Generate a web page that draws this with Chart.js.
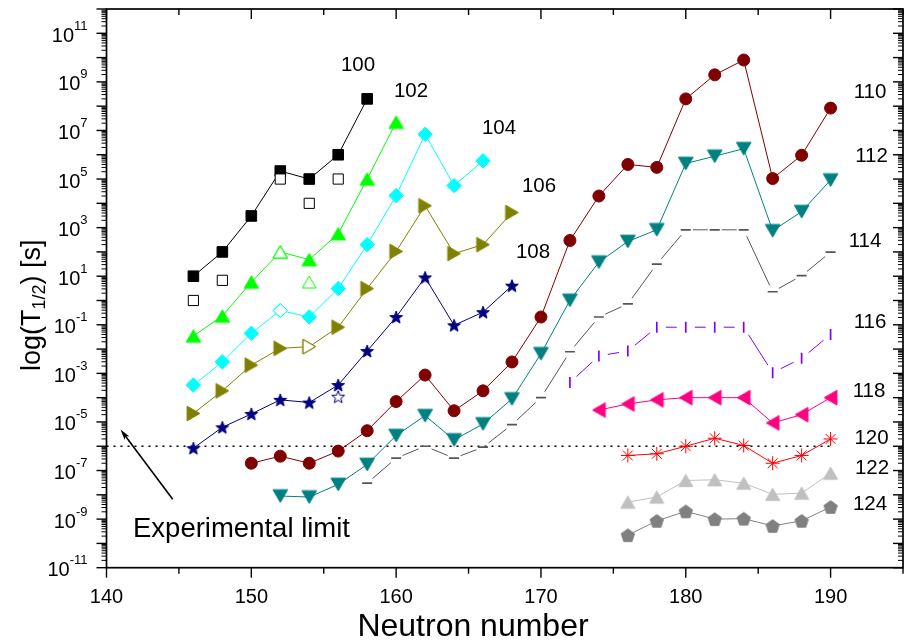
<!DOCTYPE html>
<html>
<head>
<meta charset="utf-8">
<script src="https://cdn.jsdelivr.net/npm/chart.js@4/dist/chart.umd.min.js"></script>
<style>
  html, body { margin: 0; padding: 0; background: #fff; overflow: hidden; }
  canvas { display: block; }
</style>
</head>
<body>
<canvas id="chart" width="912" height="643"></canvas>
<script>
// values: neutron number, log10 of T1/2 in seconds
const n100 = [146, 148, 150, 152, 154, 156, 158];
const logT100 = [1.0, 2.0, 3.48, 5.33, 5.0, 6.0, 8.3];
const n100Exp = [146, 148, 152, 154, 156];
const logT100Exp = [0.0, 0.83, 5.0, 4.0, 5.0];

const n102 = [146, 148, 150, 152, 154, 156, 158, 160];
const logT102 = [-1.46, -0.64, 0.76, 2.0, 1.68, 2.75, 5.0, 7.34];
const n102Exp = [152, 154];
const logT102Exp = [2.0, 0.76];

const n104 = [146, 148, 150, 152, 154, 156, 158, 160, 162, 164, 166];
const logT104 = [-3.48, -2.53, -1.35, -0.41, -0.68, 0.49, 2.3, 4.32, 6.84, 4.73, 5.75];
const n104Exp = [152];
const logT104Exp = [-0.41];

const n106 = [146, 148, 150, 152, 154, 156, 158, 160, 162, 164, 166, 168];
const logT106 = [-4.65, -3.72, -2.66, -1.97, -1.9, -1.1, 0.49, 2.02, 3.9, 1.93, 2.3, 3.62];
const n106Exp = [154];
const logT106Exp = [-1.9];

const n108 = [146, 148, 150, 152, 154, 156, 158, 160, 162, 164, 166, 168];
const logT108 = [-6.08, -5.22, -4.67, -4.09, -4.2, -3.48, -2.08, -0.68, 0.95, -1.02, -0.48, 0.61];
const n108Exp = [156];
const logT108Exp = [-3.96];

const n110 = [150, 152, 154, 156, 158, 160, 162, 164, 166, 168, 170, 172, 174, 176, 178, 180, 182, 184, 186, 188, 190];
const logT110 = [-6.7, -6.41, -6.7, -6.2, -5.36, -4.16, -3.07, -4.54, -3.72, -2.53, -0.68, 2.47, 4.3, 5.6, 5.48, 8.3, 9.29, 9.9, 5.02, 5.98, 7.92];

const n112 = [152, 154, 156, 158, 160, 162, 164, 166, 168, 170, 172, 174, 176, 178, 180, 182, 184, 186, 188, 190];
const logT112 = [-8.05, -8.09, -7.57, -6.75, -5.56, -4.74, -5.74, -5.08, -4.05, -2.19, 0.01, 1.58, 2.43, 2.91, 5.64, 5.94, 6.25, 2.87, 3.66, 4.96];

const n114 = [158, 160, 162, 164, 166, 168, 170, 172, 174, 176, 178, 180, 182, 184, 186, 188, 190];
const logT114 = [-7.52, -6.49, -6.0, -6.49, -6.04, -5.11, -4.0, -2.11, -0.68, -0.14, 1.5, 2.91, 2.91, 2.91, 0.36, 1.02, 1.99];

const n116 = [172, 174, 176, 178, 180, 182, 184, 186, 188, 190];
const logT116 = [-3.38, -2.28, -2.08, -1.1, -1.1, -1.1, -1.1, -2.97, -2.38, -1.4];

const n118 = [174, 176, 178, 180, 182, 184, 186, 188, 190];
const logT118 = [-4.51, -4.26, -4.09, -4.0, -4.0, -4.0, -5.04, -4.7, -4.0];

const n120 = [176, 178, 180, 182, 184, 186, 188, 190];
const logT120 = [-6.38, -6.31, -6.0, -5.67, -5.97, -6.7, -6.38, -5.7];

const n122 = [176, 178, 180, 182, 184, 186, 188, 190];
const logT122 = [-8.3, -8.09, -7.41, -7.38, -7.52, -7.98, -7.93, -7.11];

const n124 = [176, 178, 180, 182, 184, 186, 188, 190];
const logT124 = [-9.66, -9.07, -8.68, -9.0, -8.98, -9.28, -9.07, -8.5];

// experimental limit, 1 microsecond
const limitN = [140, 190];
const limitLogT = [-6, -6];

const zLabels = ['100', '102', '104', '106', '108', '110', '112', '114', '116', '118', '120', '122', '124'];
const xTickLabels = [140, 150, 160, 170, 180, 190];
const yTickExps = [-11, -9, -7, -5, -3, -1, 1, 3, 5, 7, 9, 11];

const FONT = "Arial, 'Liberation Sans', sans-serif";

const pts = (ns, logs) => ns.map((n, i) => ({ x: n, y: Math.pow(10, logs[i]) }));

// custom symbols (filled / open), centred on their bounding box
function markerImage(shape, color, filled, r) {
  const size = Math.ceil(r * 2 + 4);
  const c = document.createElement('canvas');
  c.width = c.height = size;
  const g = c.getContext('2d');
  const m = size / 2;
  g.beginPath();
  if (shape === 'star') {
    for (let i = 0; i < 10; i++) {
      const rr = i % 2 ? r * 0.42 : r;
      const a = -Math.PI / 2 + i * Math.PI / 5;
      g.lineTo(m + rr * Math.cos(a), m + rr * Math.sin(a) + r * 0.095);
    }
  } else if (shape === 'pentagon') {
    for (let i = 0; i < 5; i++) {
      const a = -Math.PI / 2 + i * 2 * Math.PI / 5;
      g.lineTo(m + r * Math.cos(a), m + r * Math.sin(a) + r * 0.095);
    }
  } else {
    const h = r * 1.5, w = r * Math.sqrt(3);
    const tri = {
      up: [[0, -h / 2], [w / 2, h / 2], [-w / 2, h / 2]],
      down: [[0, h / 2], [w / 2, -h / 2], [-w / 2, -h / 2]],
      right: [[h / 2, 0], [-h / 2, -w / 2], [-h / 2, w / 2]],
      left: [[-h / 2, 0], [h / 2, -w / 2], [h / 2, w / 2]]
    }[shape];
    tri.forEach(([dx, dy]) => g.lineTo(m + dx, m + dy));
  }
  g.closePath();
  g.fillStyle = filled ? color : '#fff';
  g.fill();
  g.lineWidth = 1;
  g.strokeStyle = color;
  g.stroke();
  return c;
}

function series(ns, logs, color, pointStyle, radius, extra) {
  return Object.assign({
    data: pts(ns, logs),
    showLine: true,
    borderColor: color,
    borderWidth: 1,
    pointStyle: pointStyle,
    pointRadius: radius,
    pointHoverRadius: radius,
    pointBackgroundColor: color,
    pointBorderColor: color,
    pointBorderWidth: 1
  }, extra || {});
}

function openSeries(ns, logs, color, pointStyle, radius) {
  return series(ns, logs, color, pointStyle, radius, {
    showLine: false,
    pointBackgroundColor: '#fff'
  });
}

// line gaps around the thin symbols (pixels from the point centre)
const lineGaps = { 12: 7, 13: 9 };

const datasets = [
  // experimental values, drawn on top
  openSeries(n100Exp, logT100Exp, '#000000', 'rect', 7.2),
  openSeries(n102Exp, logT102Exp, '#00ff00', markerImage('up', '#00ff00', false, 8), 8),
  openSeries(n104Exp, logT104Exp, '#00ffff', 'rectRot', 7),
  openSeries(n106Exp, logT106Exp, '#808000', markerImage('right', '#808000', false, 8.3), 8),
  openSeries(n108Exp, logT108Exp, '#000080', markerImage('star', '#000080', false, 6.7), 7),

  series(n100, logT100, '#000000', 'rect', 7.5),
  series(n102, logT102, '#00ff00', markerImage('up', '#00ff00', true, 8.4), 8),
  series(n104, logT104, '#00ffff', 'rectRot', 7.2),
  series(n106, logT106, '#808000', markerImage('right', '#808000', true, 8.5), 8),
  series(n108, logT108, '#000080', markerImage('star', '#000080', true, 6.7), 7),
  series(n110, logT110, '#800000', 'circle', 6),
  series(n112, logT112, '#008080', markerImage('down', '#008080', true, 8.5), 8),
  series(n114, logT114, '#555555', 'line', 5, { showLine: false, pointBorderWidth: 1.7 }),
  series(n116, logT116, '#8000ff', 'line', 5.5, { showLine: false, pointRotation: 90, pointBorderWidth: 1.7 }),
  series(n118, logT118, '#ff0080', markerImage('left', '#ff0080', true, 8.5), 8),
  series(n120, logT120, '#ff0000', 'star', 7),
  series(n122, logT122, '#c0c0c0', markerImage('up', '#c0c0c0', true, 8.2), 8),
  series(n124, logT124, '#808080', markerImage('pentagon', '#808080', true, 7), 7),

  {
    data: pts(limitN, limitLogT),
    showLine: true,
    borderColor: '#000',
    borderWidth: 1.5,
    borderDash: [2, 5],
    pointRadius: 0
  }
];

// connecting lines that stop short of the dash / bar symbols
const gapLines = {
  id: 'gapLines',
  beforeDatasetsDraw(chart) {
    const ctx = chart.ctx;
    ctx.save();
    Object.keys(lineGaps).forEach(k => {
      const i = Number(k);
      const gap = lineGaps[k];
      const els = chart.getDatasetMeta(i).data;
      ctx.strokeStyle = datasets[i].borderColor;
      ctx.lineWidth = 1;
      for (let j = 1; j < els.length; j++) {
        const p = els[j - 1], q = els[j];
        const dx = q.x - p.x, dy = q.y - p.y;
        const len = Math.hypot(dx, dy);
        if (len <= 2 * gap) continue;
        const ux = dx / len, uy = dy / len;
        ctx.beginPath();
        ctx.moveTo(p.x + ux * gap, p.y + uy * gap);
        ctx.lineTo(q.x - ux * gap, q.y - uy * gap);
        ctx.stroke();
      }
    });
    ctx.restore();
  }
};

const decorations = {
  id: 'decorations',
  afterDatasetsDraw(chart) {
    const ctx = chart.ctx;
    const a = chart.chartArea;
    const xs = chart.scales.x, ys = chart.scales.y;
    const seg = (x1, y1, x2, y2) => { ctx.beginPath(); ctx.moveTo(x1, y1); ctx.lineTo(x2, y2); ctx.stroke(); };
    ctx.save();
    ctx.strokeStyle = '#000';
    ctx.fillStyle = '#000';

    // frame
    ctx.lineWidth = 1.7;
    ctx.strokeRect(a.left, a.top, a.right - a.left, a.bottom - a.top);

    // x ticks: out at the bottom, in at the top
    ctx.lineWidth = 1.4;
    for (let v = xs.min; v <= xs.max; v += 5) {
      const px = xs.getPixelForValue(v);
      const len = v % 10 === 0 ? 10 : 6;
      seg(px, a.bottom, px, a.bottom + len);
      seg(px, a.top, px, a.top + len);
    }
    // y ticks: out on the left, in on the right
    for (let e = -11; e <= 12; e++) {
      const py = ys.getPixelForValue(Math.pow(10, e));
      ctx.lineWidth = 1.4;
      seg(a.left - 10, py, a.left, py);
      seg(a.right - 10, py, a.right, py);
      if (e < 12) {
        ctx.lineWidth = 1;
        for (let k = 2; k <= 9; k++) {
          const pm = ys.getPixelForValue(k * Math.pow(10, e));
          seg(a.left - 5, pm, a.left, pm);
          seg(a.right - 5, pm, a.right, pm);
        }
      }
    }

    // x tick labels
    ctx.font = '20px ' + FONT;
    ctx.textAlign = 'center';
    ctx.textBaseline = 'alphabetic';
    xTickLabels.forEach(v => ctx.fillText(String(v), xs.getPixelForValue(v), 603));

    // y tick labels 10^n
    ctx.textAlign = 'left';
    yTickExps.forEach(e => {
      const py = ys.getPixelForValue(Math.pow(10, e));
      const sup = String(e);
      ctx.font = '13px ' + FONT;
      const sw = ctx.measureText(sup).width;
      ctx.font = '20px ' + FONT;
      const bw = ctx.measureText('10').width;
      const right = 87.5;
      ctx.fillText('10', right - sw - bw, py + 8.5);
      ctx.font = '13px ' + FONT;
      ctx.fillText(sup, right - sw, py - 3.5);
    });

    // axis titles
    ctx.font = '32px ' + FONT;
    ctx.textAlign = 'center';
    ctx.fillText('Neutron number', 473, 636);

    ctx.save();
    ctx.translate(39.5, 0);
    ctx.rotate(-Math.PI / 2);
    ctx.textAlign = 'left';
    let u = -371;
    const piece = (t, size, dv) => {
      ctx.font = size + 'px ' + FONT;
      ctx.fillText(t, u, dv);
      u += ctx.measureText(t).width;
    };
    piece('log(', 27, 0);
    piece('T', 27, 0);
    piece('1/2', 18, 5);
    piece(')', 27, 0);
    piece(' [s]', 27, 0);
    ctx.restore();

    // proton-number labels
    const labelPos = [[358, 70.5], [411, 96.5], [499, 134], [539, 192], [533, 258],
      [870, 98], [871.5, 161.5], [865, 246.5], [870, 328], [869, 396.5], [871.5, 444], [872, 473.5], [870, 510]];
    ctx.font = '20.5px ' + FONT;
    ctx.textAlign = 'center';
    zLabels.forEach((t, i) => ctx.fillText(t, labelPos[i][0], labelPos[i][1]));

    // experimental limit note and arrow
    ctx.font = '27.5px ' + FONT;
    ctx.textAlign = 'left';
    ctx.fillText('Experimental limit', 133, 537);
    const x1 = 172.7, y1 = 499.3, x2 = 120.5, y2 = 429.5;
    ctx.lineWidth = 1.6;
    seg(x1, y1, x2 + 3, y2 + 4);
    const ang = Math.atan2(y2 - y1, x2 - x1);
    ctx.beginPath();
    ctx.moveTo(x2, y2);
    ctx.lineTo(x2 - 11 * Math.cos(ang) + 3 * Math.sin(ang), y2 - 11 * Math.sin(ang) - 3 * Math.cos(ang));
    ctx.lineTo(x2 - 8 * Math.cos(ang), y2 - 8 * Math.sin(ang));
    ctx.lineTo(x2 - 11 * Math.cos(ang) - 3 * Math.sin(ang), y2 - 11 * Math.sin(ang) + 3 * Math.cos(ang));
    ctx.closePath();
    ctx.fill();

    ctx.restore();
  }
};

new Chart(document.getElementById('chart'), {
  type: 'scatter',
  data: { datasets: datasets },
  options: {
    responsive: false,
    animation: false,
    events: [],
    devicePixelRatio: 1,
    layout: { padding: { left: 106.5, right: 2.5, top: 6, bottom: 75.3 } },
    plugins: { legend: { display: false }, tooltip: { enabled: false } },
    scales: {
      x: { type: 'linear', min: 140, max: 195, display: false },
      y: { type: 'logarithmic', min: 1e-11, max: 1e12, display: false }
    }
  },
  plugins: [gapLines, decorations]
});
</script>
</body>
</html>
